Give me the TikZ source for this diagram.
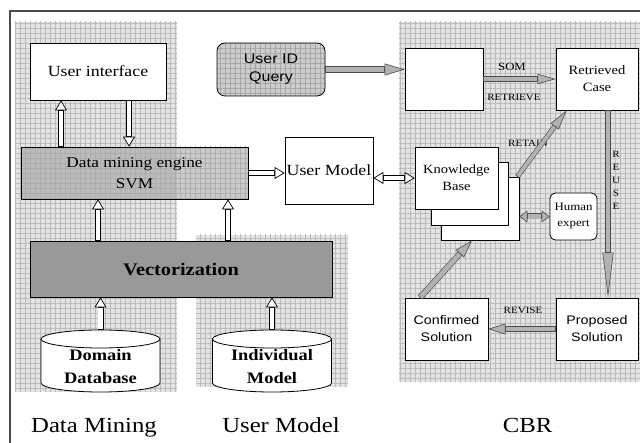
\documentclass[tikz,border=0pt]{standalone}
\usepackage{fontspec}
\setmainfont{Liberation Serif}[FakeStretch=1.15]
\newfontfamily\arialfont{Liberation Sans}[FakeStretch=1.15]
\usetikzlibrary{arrows.meta,patterns.meta}

\begin{document}
\begin{tikzpicture}[x=1pt, y=-1pt, % pixel units, y grows downward
        box/.style={draw, line width=.8pt, fill=white, align=center, inner sep=1pt},
        region/.style={preaction={fill=black!11}, pattern={Hatch[distance=5pt, line width=.4pt]}, pattern color=black!27},
        lbl/.style={inner sep=0pt, font=\fontsize{9.6}{13}\selectfont},
        whitearr/.style={line width=6pt, draw=black, >={Triangle[fill=white, length=10pt, width=12pt, line width=.7pt]}, ->,
          postaction={draw=white, line width=4.6pt, -, shorten >=10.4pt, shorten <=.7pt}},
        whitedbl/.style={line width=6pt, draw=black, >={Triangle[fill=white, length=10pt, width=12pt, line width=.7pt]}, <->,
          postaction={draw=white, line width=4.6pt, -, shorten >=10.4pt, shorten <=10.4pt}},
        greyarr/.style n args={3}{line width=#1, draw=black!70, >={Triangle[fill=black!30, length=#2, width=#3, line width=.6pt]}, ->,
          postaction={draw=black!30, line width=#1-1.2pt, -, shorten >=#2+.3pt, shorten <=.6pt}},
        greydbl/.style n args={3}{line width=#1, draw=black!70, >={Triangle[fill=black!30, length=#2, width=#3, line width=.6pt]}, <->,
          postaction={draw=black!30, line width=#1-1.2pt, -, shorten >=#2+.3pt, shorten <=#2+.3pt}}]

        \useasboundingbox (0,0) rectangle (640,443);

        % Shaded areas and frame
        \path[region] (15,22) rectangle (177,392);
        \path[region] (196,235) rectangle (348,387);
        \path[region] (399,22) rectangle (640,382);
        \draw[black!70, line width=1.2pt] (10,443) -- (10,11) -- (640,11);

        % Data mining side
        \node[box, minimum width=136pt, minimum height=57pt, font=\fontsize{15.5}{18}\selectfont] (ui) at (98,71.5) {User interface};
        \node[box, fill=none, minimum width=227pt, minimum height=52pt, font=\fontsize{15}{21}\selectfont,
          preaction={fill=black!45, fill opacity=.45}, pattern={Hatch[distance=5pt, line width=.4pt]}, pattern color=black!32] (dme) at (134.5,173) {Data mining engine\\SVM};
        \node[box, fill=black!40, minimum width=302pt, minimum height=56pt, font=\fontsize{17.7}{20}\selectfont\bfseries] (vec) at (181,269) {Vectorization};

        % Databases
        \foreach \cx/\nm in {100.5/ddb, 272/imd}{
          \draw[line width=.8pt, fill=white] (\cx-59.5,339) -- (\cx-59.5,383)
            arc[start angle=180, end angle=360, x radius=59.5pt, y radius=9pt] -- (\cx+59.5,339)
            arc[start angle=0, end angle=180, x radius=59.5pt, y radius=9pt] -- cycle;
          \draw[line width=.8pt] (\cx-59.5,339) arc[start angle=180, end angle=360, x radius=59.5pt, y radius=9pt];
          \coordinate (\nm-top) at (\cx,330);
        }
        \node[align=center, font=\fontsize{16}{23}\selectfont\bfseries] (ddb) at (100.5,367) {Domain\\Database};
        \node[align=center, font=\fontsize{16}{23}\selectfont\bfseries] (imd) at (272,367) {Individual\\Model};

        % User model and query
        \node[box, minimum width=88pt, minimum height=67pt, font=\fontsize{15.5}{18}\selectfont] (um) at (329,170.5) {User Model};
        \node[box, rounded corners=8pt, fill=none, minimum width=108pt, minimum height=53pt, font=\arialfont\fontsize{13.9}{18}\selectfont,
          preaction={fill=black!20}, pattern={Hatch[distance=5pt, line width=.4pt]}, pattern color=black!35] (uidq) at (271,69.5) {User ID\\Query};

        % CBR cycle
        \node[box, minimum width=78pt, minimum height=62pt] (blank) at (444,79) {};
        \node[box, minimum width=82pt, minimum height=62pt, font=\fontsize{12.7}{17}\selectfont] (rc) at (597,79) {Retrieved\\Case};
        \node[box, minimum width=78pt, minimum height=63pt] (kb3) at (480,208.5) {};
        \node[box, minimum width=77pt, minimum height=63pt] (kb2) at (469.5,193.5) {};
        \node[box, minimum width=83pt, minimum height=62pt, font=\fontsize{12.6}{17}\selectfont] (kb1) at (456.5,178) {Knowledge\\Base};
        \node[box, rounded corners=6pt, minimum width=47pt, minimum height=47pt, font=\fontsize{11.2}{16}\selectfont] (he) at (573.5,216.5) {Human\\expert};
        \node[box, minimum width=82pt, minimum height=62pt, font=\arialfont\fontsize{12.4}{17}\selectfont] (ps) at (597,329) {Proposed\\Solution};
        \node[box, minimum width=83pt, minimum height=62pt, font=\arialfont\fontsize{12.4}{17}\selectfont] (cs) at (446.5,329) {Confirmed\\Solution};

        % Labels on the cycle
        \node[lbl, font=\fontsize{11.1}{13}\selectfont] (som) at (512,67) {SOM};
        \node[lbl] (retrieve) at (514,97) {RETRIEVE};
        \node[lbl] (retain) at (528,143) {RETAIN};
        \node[lbl, align=center] (reuse) at (616,180.5) {R\\E\\U\\S\\E};
        \node[lbl] (revise) at (523,310) {REVISE};

        % White arrows
        \draw[whitearr] ([xshift=-73.5pt]dme.north) -- ([xshift=-37pt]ui.south);
        \draw[whitearr] ([xshift=31pt]ui.south) -- ([xshift=-5.5pt]dme.north);
        \draw[whitearr] ([xshift=-83pt]vec.north) -- ([xshift=-36.5pt]dme.south);
        \draw[whitearr] ([xshift=47pt]vec.north) -- ([xshift=93.5pt]dme.south);
        \draw[whitearr] (ddb-top) -- (ddb-top |- vec.south);
        \draw[whitearr] (imd-top) -- (imd-top |- vec.south);
        \draw[whitearr] (dme.east) -- (dme.east -| um.west);
        \draw[whitedbl] (kb1.west -| um.east) -- (kb1.west);

        % Grey arrows
        \draw[greyarr={7pt}{20pt}{12pt}] (uidq.east) -- (uidq.east -| blank.west);
        \draw[greyarr={6pt}{18pt}{10pt}] (blank.east) -- (rc.west);
        \draw[greyarr={6pt}{45pt}{11pt}] ([xshift=11pt]rc.south) -- ([xshift=11pt]ps.north);
        \draw[greyarr={6pt}{17pt}{11pt}] (ps.west) -- (cs.east);
        \draw[greyarr={6pt}{18pt}{11pt}] ([xshift=-26.5pt]cs.north) -- ([xshift=-8pt]kb3.south);
        \draw[greyarr={5pt}{20pt}{10pt}] ([xshift=-2pt]kb3.north east) -- ([xshift=11pt]rc.south west);
        \draw[greydbl={6pt}{8pt}{12pt}] (he.west -| kb3.east) -- (he.west);

        % Group titles
        \node[anchor=base, font=\fontsize{21.5}{24}\selectfont] (dmtitle) at (94,433) {Data Mining};
        \node[anchor=base, font=\fontsize{21.5}{24}\selectfont] (umtitle) at (281,433) {User Model};
        \node[anchor=base, font=\fontsize{21.5}{24}\selectfont] (cbrtitle) at (527.5,433) {CBR};

\end{tikzpicture}
\end{document}
